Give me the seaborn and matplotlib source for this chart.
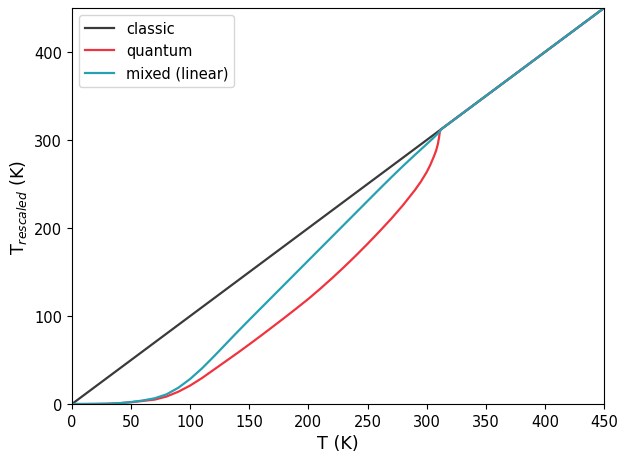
import matplotlib
matplotlib.use("Agg")
import matplotlib.pyplot as plt
import numpy as np
import pandas as pd
import seaborn as sns

# Temperature grid (K) and rescaled temperatures for each scheme
classic_T = [0, 450]
classic_y = [0, 450]

quantum_T = [0, 10, 20, 30, 40, 50, 60, 70, 80, 90, 100, 110, 120, 130, 140,
             150, 160, 170, 180, 190, 200, 210, 220, 230, 240, 250, 260, 270,
             280, 290, 295, 300, 303, 306, 308, 309.5, 310.5, 311.1, 311.5, 450]
quantum_y = [0, 0, 0.1, 0.3, 0.9, 2.0, 3.5, 5.0, 8.5, 14, 21, 29.5, 39, 48.5,
             58, 67.8, 77.8, 88, 98.3, 108.8, 119.5, 131, 143, 155.5, 168.5, 182,
             196, 210.5, 226, 243, 252.5, 263.5, 271.5, 281, 288, 295.5, 303,
             309, 311.5, 450]

mixed_T = [0, 10, 20, 30, 40, 50, 60, 70, 80, 90, 100, 110, 120, 130, 140, 150,
           160, 170, 180, 190, 200, 210, 220, 230, 240, 250, 260, 270, 280, 290,
           300, 305, 310, 313, 450]
mixed_y = [0, 0, 0.1, 0.3, 0.9, 2.2, 4.0, 6.5, 11, 18.5, 28.5, 40.5, 54, 68, 82,
           95.7, 109.2, 122.7, 136.2, 149.7, 163.2, 176.7, 190.2, 203.7, 217.2,
           230.7, 244.2, 257.5, 270.5, 283, 295.3, 301.5, 308, 313, 450]

series_names = ["classic", "quantum", "mixed (linear)"]
series_colors = ["#3a3a3a", "#f0343f", "#26a0b2"]

frames = []
for name, t, y in zip(series_names,
                      [classic_T, quantum_T, mixed_T],
                      [classic_y, quantum_y, mixed_y]):
    frames.append(pd.DataFrame({"T": t, "Tr": y, "scheme": name}))
df = pd.concat(frames, ignore_index=True)

fig = plt.figure(figsize=(6.2, 4.52), dpi=100)
ax = fig.add_axes([0.1161, 0.104, 0.8581, 0.876])

sns.lineplot(data=df, x="T", y="Tr", hue="scheme", hue_order=series_names,
             palette=dict(zip(series_names, series_colors)),
             sort=False, estimator=None, units="scheme", linewidth=1.6, ax=ax)

ax.set_xlim(0, 450)
ax.set_ylim(0, 450)
ax.set_xticks(range(0, 451, 50))
ax.set_yticks(range(0, 401, 100))
ax.tick_params(labelsize=10.5)
ax.set_xlabel("T (K)", fontsize=12.7)
ax.set_ylabel(r"T$_{rescaled}$ (K)", fontsize=12.7)

leg = ax.legend(loc="upper left", fontsize=10.5, title=None)
for line in leg.get_lines():
    line.set_linewidth(1.6)

fig.savefig("out.png", dpi=100)
